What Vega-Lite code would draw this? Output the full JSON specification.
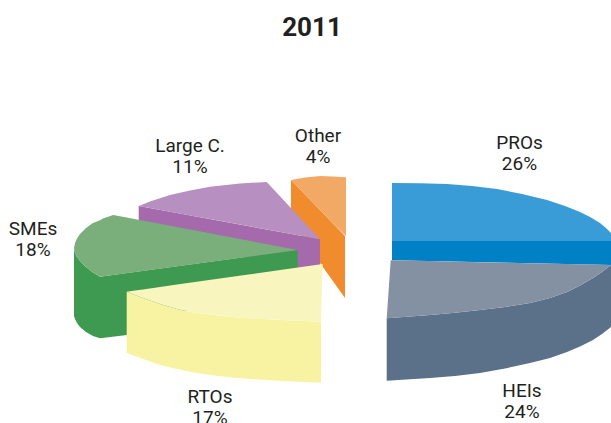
{"$schema":"https://vega.github.io/schema/vega-lite/v6.json","width":611,"height":423,"padding":0,"autosize":{"type":"none"},"background":"white","view":{"stroke":null},
"datasets":{"faces":[
{"f":"Other side","x":-9,"y":90,"y2":48},{"f":"Other side","x":20,"y":60,"y2":7},{"f":"Other side","x":45,"y":34,"y2":-28},
{"f":"Other top","x":-9,"y":90,"y2":90},{"f":"Other top","x":5,"y":92.5,"y2":75.5},{"f":"Other top","x":20,"y":94,"y2":60},{"f":"Other top","x":33,"y":93.5,"y2":46.5},{"f":"Other top","x":46,"y":92.7,"y2":34},
{"f":"Large C. side","x":-161.3,"y":64,"y2":38},{"f":"Large C. side","x":-3,"y":34.9,"y2":2},{"f":"Large C. side","x":20,"y":30.7,"y2":2},
{"f":"Large C. top","x":-161.3,"y":64,"y2":64},{"f":"Large C. top","x":-150,"y":68.5,"y2":62},{"f":"Large C. top","x":-130,"y":75,"y2":58.2},{"f":"Large C. top","x":-110,"y":79.5,"y2":54.6},{"f":"Large C. top","x":-90,"y":83.3,"y2":50.9},{"f":"Large C. top","x":-60,"y":86.5,"y2":45.4},{"f":"Large C. top","x":-33.3,"y":88,"y2":40.5},{"f":"Large C. top","x":20,"y":30.7,"y2":30.7},
{"f":"SMEs side","x":-226,"y":21.7,"y2":-46},{"f":"SMEs side","x":-225,"y":17,"y2":-49},{"f":"SMEs side","x":-223,"y":13,"y2":-53},{"f":"SMEs side","x":-220,"y":9,"y2":-57},{"f":"SMEs side","x":-214,"y":3,"y2":-62},{"f":"SMEs side","x":-207,"y":-2.5,"y2":-66},{"f":"SMEs side","x":-200,"y":-6.7,"y2":-68.3},{"f":"SMEs side","x":-173,"y":-3,"y2":-65},{"f":"SMEs side","x":-2.3,"y":20,"y2":2.5},
{"f":"SMEs top","x":-226,"y":21.7,"y2":21.7},{"f":"SMEs top","x":-225,"y":27,"y2":17},{"f":"SMEs top","x":-223,"y":31.5,"y2":13},{"f":"SMEs top","x":-220,"y":36,"y2":9},{"f":"SMEs top","x":-214,"y":42,"y2":3},{"f":"SMEs top","x":-207,"y":47,"y2":-2.5},{"f":"SMEs top","x":-200,"y":49.7,"y2":-6.7},{"f":"SMEs top","x":-197,"y":51.5,"y2":-6.3},{"f":"SMEs top","x":-186.7,"y":55,"y2":-4.9},{"f":"SMEs top","x":-2.3,"y":20,"y2":20},
{"f":"RTOs side","x":-173.3,"y":-21.7,"y2":-82.7},{"f":"RTOs side","x":-165,"y":-25,"y2":-86},{"f":"RTOs side","x":-157,"y":-28,"y2":-89},{"f":"RTOs side","x":-140,"y":-34,"y2":-95},{"f":"RTOs side","x":-123,"y":-39,"y2":-99},{"f":"RTOs side","x":-107,"y":-42.5,"y2":-102.5},{"f":"RTOs side","x":-82,"y":-45.5,"y2":-106},{"f":"RTOs side","x":-57,"y":-48,"y2":-108.5},{"f":"RTOs side","x":-18,"y":-50,"y2":-111},{"f":"RTOs side","x":21,"y":-51.7,"y2":-112.7},
{"f":"RTOs top","x":-173.3,"y":-21.7,"y2":-21.7},{"f":"RTOs top","x":-165,"y":-20.5,"y2":-25},{"f":"RTOs top","x":-157,"y":-19.4,"y2":-28},{"f":"RTOs top","x":-140,"y":-17,"y2":-34},{"f":"RTOs top","x":-123,"y":-14.6,"y2":-39},{"f":"RTOs top","x":-107,"y":-12.3,"y2":-42.5},{"f":"RTOs top","x":-82,"y":-8.8,"y2":-45.5},{"f":"RTOs top","x":-57,"y":-5.3,"y2":-48},{"f":"RTOs top","x":-18,"y":0.2,"y2":-50},{"f":"RTOs top","x":21,"y":5.8,"y2":-51.7},{"f":"RTOs top","x":22.7,"y":6,"y2":6},
{"f":"PROs top","x":92,"y":87,"y2":29},{"f":"PROs top","x":120,"y":86.7,"y2":29},{"f":"PROs top","x":147,"y":86,"y2":29},{"f":"PROs top","x":172,"y":84,"y2":29},{"f":"PROs top","x":197,"y":81,"y2":29},{"f":"PROs top","x":222,"y":76,"y2":29},{"f":"PROs top","x":247,"y":70,"y2":29},{"f":"PROs top","x":265,"y":64,"y2":29},{"f":"PROs top","x":280,"y":58,"y2":29},{"f":"PROs top","x":290,"y":53,"y2":29},{"f":"PROs top","x":300,"y":47,"y2":29},{"f":"PROs top","x":306,"y":42,"y2":29},{"f":"PROs top","x":311,"y":37,"y2":29},
{"f":"PROs side","x":92,"y":29,"y2":9.7},{"f":"PROs side","x":311,"y":29,"y2":5},
{"f":"HEIs side","x":86.7,"y":-48.3,"y2":-110.7},{"f":"HEIs side","x":130,"y":-45,"y2":-108},{"f":"HEIs side","x":155,"y":-42.8,"y2":-106},{"f":"HEIs side","x":180,"y":-40,"y2":-103},{"f":"HEIs side","x":205,"y":-37,"y2":-98.5},{"f":"HEIs side","x":230,"y":-33,"y2":-93},{"f":"HEIs side","x":250,"y":-28,"y2":-88},{"f":"HEIs side","x":267,"y":-22,"y2":-82},{"f":"HEIs side","x":280,"y":-15.5,"y2":-76.5},{"f":"HEIs side","x":293,"y":-8,"y2":-70},{"f":"HEIs side","x":302,"y":-2,"y2":-64},{"f":"HEIs side","x":311,"y":5,"y2":-57},
{"f":"HEIs top","x":86.7,"y":-48.3,"y2":-48.3},{"f":"HEIs top","x":90.7,"y":9.7,"y2":-48},{"f":"HEIs top","x":130,"y":8.9,"y2":-45},{"f":"HEIs top","x":155,"y":8.3,"y2":-42.8},{"f":"HEIs top","x":180,"y":7.8,"y2":-40},{"f":"HEIs top","x":205,"y":7.3,"y2":-37},{"f":"HEIs top","x":230,"y":6.7,"y2":-33},{"f":"HEIs top","x":250,"y":6.3,"y2":-28},{"f":"HEIs top","x":267,"y":6,"y2":-22},{"f":"HEIs top","x":280,"y":5.7,"y2":-15.5},{"f":"HEIs top","x":293,"y":5.4,"y2":-8},{"f":"HEIs top","x":302,"y":5.2,"y2":-2},{"f":"HEIs top","x":311,"y":5,"y2":5}
],
"labels":[
{"t":"PROs","x":219.5,"y":127},{"t":"26%","x":219.5,"y":106},
{"t":"HEIs","x":222,"y":-121},{"t":"24%","x":222,"y":-142},
{"t":"RTOs","x":-90,"y":-127},{"t":"17%","x":-90,"y":-148},
{"t":"SMEs","x":-267,"y":41},{"t":"18%","x":-267,"y":20},
{"t":"Large C.","x":-110,"y":124},{"t":"11%","x":-110,"y":103},
{"t":"Other","x":18,"y":134},{"t":"4%","x":18,"y":113}
],
"heading":[{"t":"2011","x":12,"y":242}]},
"layer":[
{"data":{"name":"faces"},"mark":{"type":"area","interpolate":"linear","clip":true},
"encoding":{"x":{"field":"x","type":"quantitative","scale":{"domain":[-300,311],"nice":false,"zero":false},"axis":null},
"y":{"field":"y","type":"quantitative","scale":{"domain":[-153,270],"nice":false,"zero":false},"axis":null,"stack":null},
"y2":{"field":"y2"},
"color":{"field":"f","type":"nominal","legend":null,"sort":null,"scale":{
"domain":["Other side","Other top","Large C. side","Large C. top","SMEs side","SMEs top","RTOs side","RTOs top","PROs top","PROs side","HEIs side","HEIs top"],
"range":["#F08C2D","#F3A966","#A46AAC","#B78FC1","#3E9A50","#7AAE7A","#F8F3A3","#F8F6BE","#399CD6","#0081C6","#5B7189","#8491A3"]}}}},
{"data":{"name":"labels"},"mark":{"type":"text","font":"Roboto","fontSize":19,"color":"#231F20","align":"center","baseline":"middle"},
"encoding":{"x":{"field":"x","type":"quantitative"},"y":{"field":"y","type":"quantitative"},"text":{"field":"t"}}},
{"data":{"name":"heading"},"mark":{"type":"text","font":"Roboto","fontSize":26,"fontWeight":"bold","color":"#231F20","align":"center","baseline":"middle"},
"encoding":{"x":{"field":"x","type":"quantitative"},"y":{"field":"y","type":"quantitative"},"text":{"field":"t"}}}
]}
